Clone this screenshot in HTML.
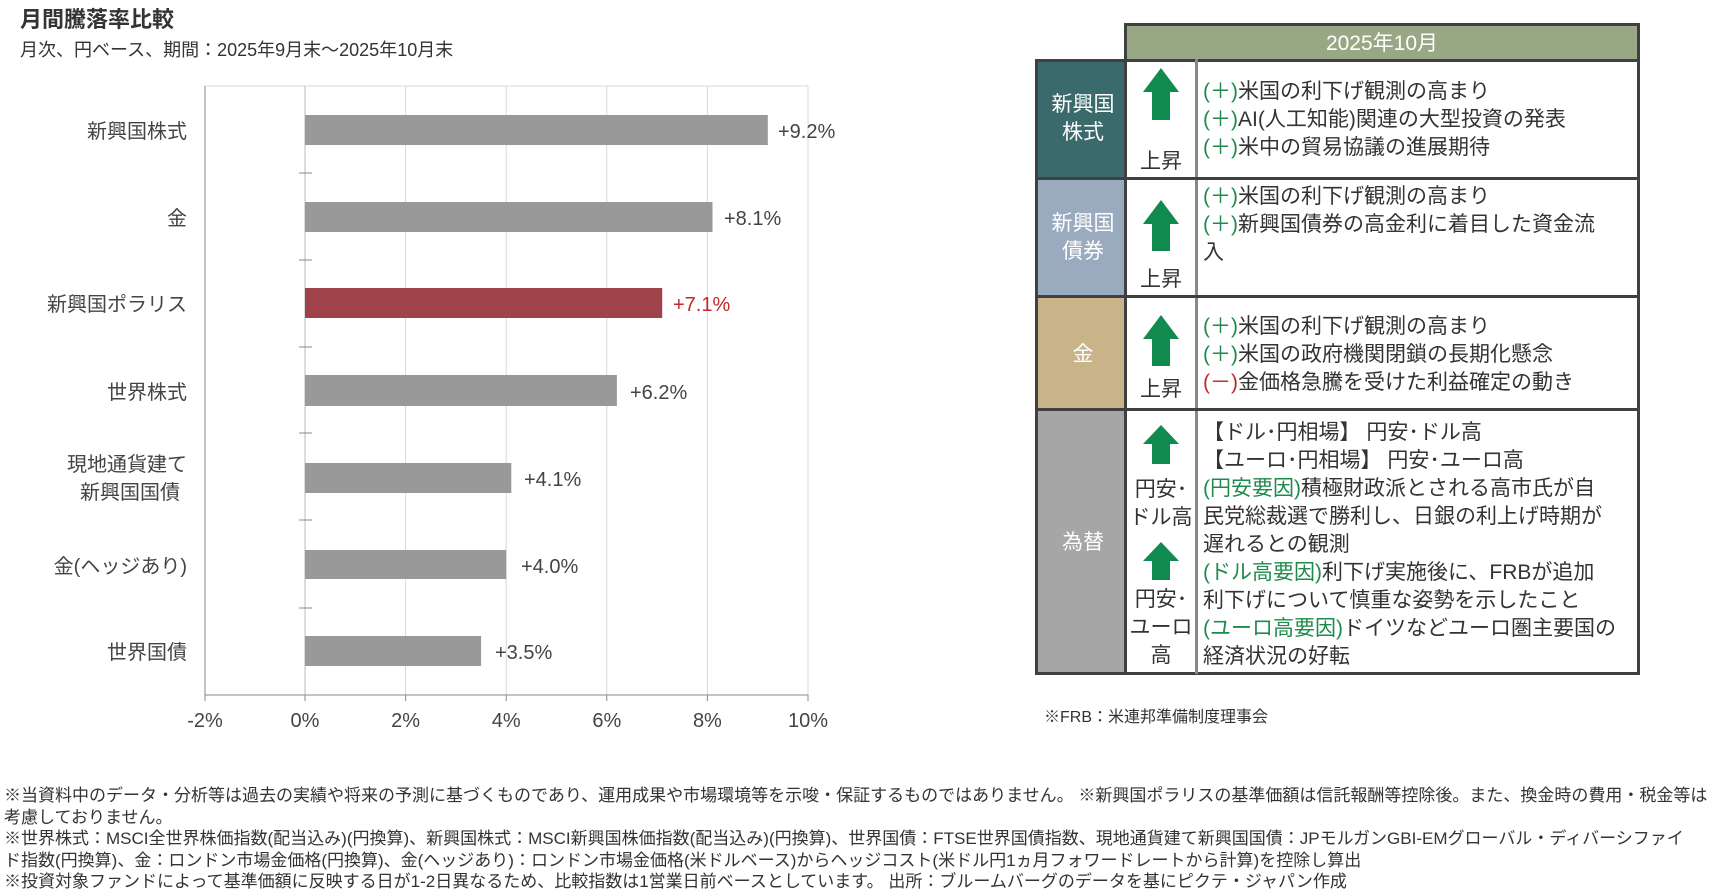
<!DOCTYPE html>
<html><head><meta charset="utf-8">
<style>
body{margin:0;width:1709px;height:896px;background:#fff;position:relative;overflow:hidden;font-family:"Liberation Sans","Noto Sans CJK JP",sans-serif;color:#333}
.a{position:absolute;white-space:nowrap}
.t{font-size:21px;line-height:28px}
.g{color:#1f8a4c}.r{color:#c0282d}
.cell{position:absolute;box-sizing:border-box}
</style></head><body>
<div class="a" style="left:20px;top:2px;font-size:22px;font-weight:bold;color:#333">月間騰落率比較</div>
<div class="a" style="left:20px;top:36px;font-size:18px;color:#333">月次、円ベース、期間：2025年9月末～2025年10月末</div>

<svg class="a" style="left:0;top:0" width="900" height="760" font-family="Liberation Sans, Noto Sans CJK JP, sans-serif">
<g stroke="#d9d9d9" stroke-width="1">
<line x1="405.6" y1="86" x2="405.6" y2="695"/><line x1="506.2" y1="86" x2="506.2" y2="695"/><line x1="606.8" y1="86" x2="606.8" y2="695"/><line x1="707.4" y1="86" x2="707.4" y2="695"/><line x1="808" y1="86" x2="808" y2="695"/>
<line x1="205" y1="86" x2="808" y2="86"/>
</g>
<line x1="205" y1="86" x2="205" y2="695" stroke="#888"/>
<line x1="205" y1="695" x2="808" y2="695" stroke="#888"/>
<line x1="305" y1="86" x2="305" y2="695" stroke="#bbb"/>
<g stroke="#888"><line x1="205" y1="695" x2="205" y2="701"/><line x1="305" y1="695" x2="305" y2="701"/><line x1="405.6" y1="695" x2="405.6" y2="701"/><line x1="506.2" y1="695" x2="506.2" y2="701"/><line x1="606.8" y1="695" x2="606.8" y2="701"/><line x1="707.4" y1="695" x2="707.4" y2="701"/><line x1="808" y1="695" x2="808" y2="701"/>
<line x1="299" y1="173" x2="312" y2="173"/><line x1="299" y1="260" x2="312" y2="260"/><line x1="299" y1="347" x2="312" y2="347"/><line x1="299" y1="433" x2="312" y2="433"/><line x1="299" y1="520" x2="312" y2="520"/><line x1="299" y1="608" x2="312" y2="608"/></g>
<g fill="#999">
<rect x="305" y="115" width="462.8" height="30"/>
<rect x="305" y="202" width="407.5" height="30"/>
<rect x="305" y="375" width="311.9" height="31"/>
<rect x="305" y="463" width="206.3" height="30"/>
<rect x="305" y="550" width="201.2" height="29"/>
<rect x="305" y="636" width="176.1" height="30"/>
</g>
<rect x="305" y="288" width="357.2" height="30" fill="#a0424a"/>
<g font-size="20" fill="#444">
<text x="778" y="138">+9.2%</text><text x="724" y="225">+8.1%</text><text x="630" y="399">+6.2%</text><text x="524" y="486">+4.1%</text><text x="521" y="573">+4.0%</text><text x="495" y="659">+3.5%</text>
<text x="673" y="311" fill="#c0282d">+7.1%</text>
</g>
<g font-size="20" fill="#444" text-anchor="end">
<text x="187" y="138">新興国株式</text><text x="187" y="225">金</text><text x="187" y="311">新興国ポラリス</text><text x="187" y="399">世界株式</text>
<text x="187" y="471">現地通貨建て</text><text x="180" y="499">新興国国債</text><text x="187" y="573">金(ヘッジあり)</text><text x="187" y="659">世界国債</text>
</g>
<g font-size="20" fill="#444" text-anchor="middle">
<text x="205" y="727">-2%</text><text x="305" y="727">0%</text><text x="405.6" y="727">2%</text><text x="506.2" y="727">4%</text><text x="606.8" y="727">6%</text><text x="707.4" y="727">8%</text><text x="808" y="727">10%</text>
</g>
</svg>

<!-- table -->
<div class="cell" style="left:1124px;top:23px;width:516px;height:38px;background:#98a884;border:3px solid #404040;border-bottom:none;color:#fff;font-size:21px;text-align:center;line-height:36px">2025年10月</div>
<div class="cell" style="left:1035px;top:59px;width:605px;height:616px;border:3px solid #404040"></div>
<div class="cell" style="left:1038px;top:62px;width:87px;height:116px;background:#3b6a6c"></div>
<div class="cell" style="left:1038px;top:179px;width:87px;height:117px;background:#9aabbf"></div>
<div class="cell" style="left:1038px;top:298px;width:87px;height:111px;background:#c9b48a"></div>
<div class="cell" style="left:1038px;top:411px;width:87px;height:261px;background:#a6a6a6"></div>
<div class="cell" style="left:1124px;top:59px;width:3px;height:615px;background:#404040"></div>
<div class="cell" style="left:1195px;top:59px;width:3px;height:615px;background:#888"></div>
<div class="cell" style="left:1035px;top:177px;width:605px;height:3px;background:#404040"></div>
<div class="cell" style="left:1035px;top:295px;width:605px;height:3px;background:#404040"></div>
<div class="cell" style="left:1035px;top:408px;width:605px;height:3px;background:#404040"></div>

<div class="a t" style="left:1048px;top:91px;color:#fff;text-align:center;width:70px">新興国<br>株式</div>
<div class="a t" style="left:1048px;top:210px;color:#fff;text-align:center;width:70px">新興国<br>債券</div>
<div class="a t" style="left:1048px;top:341px;color:#fff;text-align:center;width:70px">金</div>
<div class="a t" style="left:1048px;top:529px;color:#fff;text-align:center;width:70px">為替</div>

<svg class="a" style="left:1127px;top:0" width="68" height="680">
<g fill="#118a4f">
<polygon points="34,68 52,92 43,92 43,120 25,120 25,92 16,92"/>
<polygon points="34,200 52,224 43,224 43,251 25,251 25,224 16,224"/>
<polygon points="34,315 52,339 43,339 43,366 25,366 25,339 16,339"/>
<polygon points="34,425 52,444 43,444 43,464 25,464 25,444 16,444"/>
<polygon points="34,542 52,561 43,561 43,580 25,580 25,561 16,561"/>
</g>
</svg>
<div class="a t" style="left:1127px;top:148px;width:68px;text-align:center">上昇</div>
<div class="a t" style="left:1127px;top:266px;width:68px;text-align:center">上昇</div>
<div class="a t" style="left:1127px;top:376px;width:68px;text-align:center">上昇</div>
<div class="a t" style="left:1127px;top:476px;width:68px;text-align:center">円安･<br>ドル高</div>
<div class="a t" style="left:1127px;top:586px;width:68px;text-align:center">円安･<br>ユーロ<br>高</div>

<div class="a t" style="left:1203px;top:78px"><span class="g">(＋)</span>米国の利下げ観測の高まり<br><span class="g">(＋)</span>AI(人工知能)関連の大型投資の発表<br><span class="g">(＋)</span>米中の貿易協議の進展期待</div>
<div class="a t" style="left:1203px;top:183px"><span class="g">(＋)</span>米国の利下げ観測の高まり<br><span class="g">(＋)</span>新興国債券の高金利に着目した資金流<br>入</div>
<div class="a t" style="left:1203px;top:313px"><span class="g">(＋)</span>米国の利下げ観測の高まり<br><span class="g">(＋)</span>米国の政府機関閉鎖の長期化懸念<br><span class="r">(－)</span>金価格急騰を受けた利益確定の動き</div>
<div class="a t" style="left:1203px;top:419px">【ドル･円相場】 円安･ドル高<br>【ユーロ･円相場】 円安･ユーロ高<br><span class="g">(円安要因)</span>積極財政派とされる高市氏が自<br>民党総裁選で勝利し、日銀の利上げ時期が<br>遅れるとの観測<br><span class="g">(ドル高要因)</span>利下げ実施後に、FRBが追加<br>利下げについて慎重な姿勢を示したこと<br><span class="g">(ユーロ高要因)</span>ドイツなどユーロ圏主要国の<br>経済状況の好転</div>

<div class="a" style="left:1044px;top:703px;font-size:16px">※FRB：米連邦準備制度理事会</div>

<div class="a" style="left:4px;top:785px;font-size:17px;line-height:21.5px;color:#333">※当資料中のデータ・分析等は過去の実績や将来の予測に基づくものであり、運用成果や市場環境等を示唆・保証するものではありません。 ※新興国ポラリスの基準価額は信託報酬等控除後。また、換金時の費用・税金等は<br>考慮しておりません。<br>※世界株式：MSCI全世界株価指数(配当込み)(円換算)、新興国株式：MSCI新興国株価指数(配当込み)(円換算)、世界国債：FTSE世界国債指数、現地通貨建て新興国国債：JPモルガンGBI-EMグローバル・ディバーシファイ<br>ド指数(円換算)、金：ロンドン市場金価格(円換算)、金(ヘッジあり)：ロンドン市場金価格(米ドルベース)からヘッジコスト(米ドル円1ヵ月フォワードレートから計算)を控除し算出<br>※投資対象ファンドによって基準価額に反映する日が1-2日異なるため、比較指数は1営業日前ベースとしています。 出所：ブルームバーグのデータを基にピクテ・ジャパン作成</div>
</body></html>
